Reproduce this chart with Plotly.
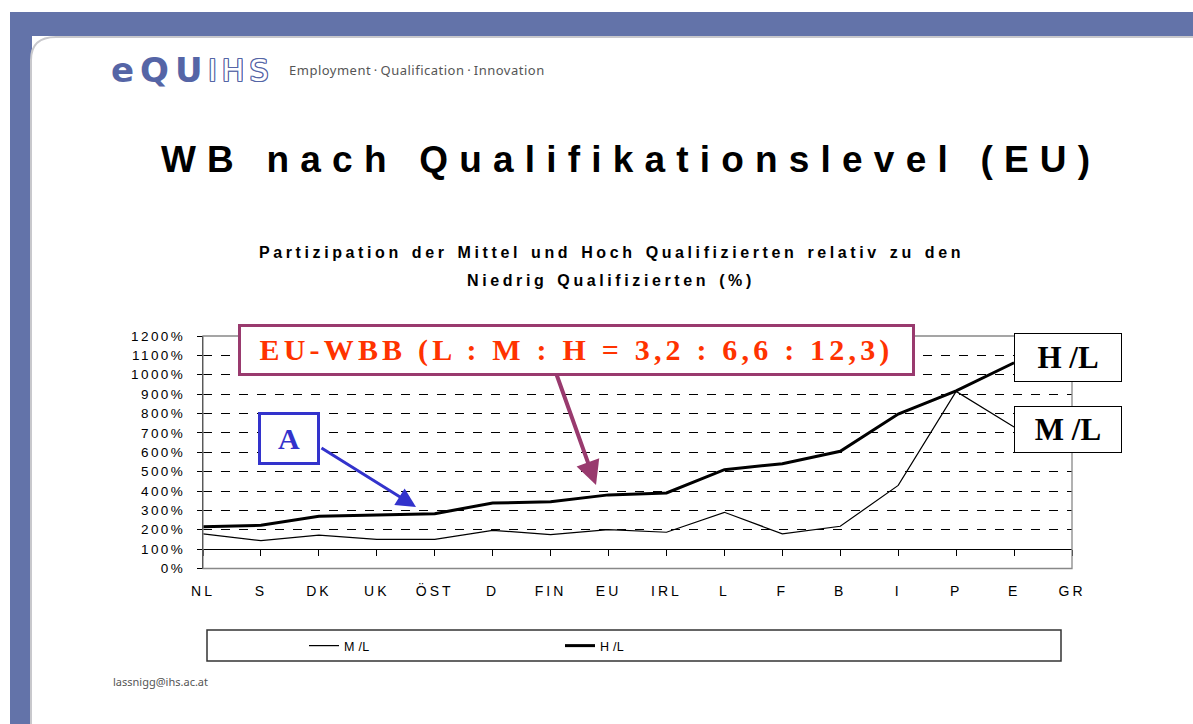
import plotly.graph_objects as go

W, H = 1193, 724

categories = ["NL", "S", "DK", "UK", "ÖST", "D", "FIN", "EU", "IRL", "L", "F", "B", "I", "P", "E", "GR"]
ml_values = [179, 144, 172, 150, 150, 197, 175, 201, 187, 290, 179, 218, 429, 914, 730, None]
hl_values = [216, 223, 270, 278, 283, 338, 344, 380, 390, 510, 541, 605, 797, 917, 1062, None]
y_tickvals = [0, 100, 200, 300, 400, 500, 600, 700, 800, 900, 1000, 1100, 1200]
y_ticktext = [f"{v}%" for v in y_tickvals]


def X(px):
    return px / W


def Y(py):
    return 1 - py / H


def ls(text, sp, ws=None):
    st = f"letter-spacing:{sp}px"
    if ws is not None:
        st += f";word-spacing:{ws}px"
    return f'<span style="{st}">{text}</span>'


x0p, x1p = 203, 1072
y0p, y1p = 568.5, 336
dom_x = [X(x0p), X(x1p)]
dom_y = [Y(y0p), Y(y1p)]
pos100 = dom_y[0] + (dom_y[1] - dom_y[0]) / 12

fig = go.Figure()
fig.add_trace(go.Scatter(x=categories, y=ml_values, mode="lines", name=ls("M /L", 0.3),
                         line=dict(color="black", width=1.2), hoverinfo="skip"))
fig.add_trace(go.Scatter(x=categories, y=hl_values, mode="lines", name=ls("H /L", 0.3),
                         line=dict(color="black", width=3), hoverinfo="skip"))
# helper trace so the category axis line at 100% is drawn
fig.add_trace(go.Scatter(x=categories, y=ml_values, xaxis="x2", mode="lines", opacity=0,
                         line=dict(width=0), showlegend=False, hoverinfo="skip"))

fig.update_layout(
    width=W, height=H,
    margin=dict(l=0, r=0, t=0, b=0, pad=0, autoexpand=False),
    paper_bgcolor="white", plot_bgcolor="white",
    font=dict(family="Liberation Sans, Arial, sans-serif", color="black"),
    xaxis=dict(domain=dom_x, anchor="y", type="category", categoryorder="array",
               categoryarray=categories, range=[0, 15], automargin=False,
               tickvals=categories, ticktext=[ls(c, 3) for c in categories],
               showgrid=False, showline=False, zeroline=False, ticks="",
               ticklabelstandoff=12, tickfont=dict(size=14)),
    xaxis2=dict(domain=dom_x, anchor="free", position=pos100, overlaying="x",
                type="category", categoryorder="array", categoryarray=categories,
                range=[0, 15], automargin=False, showgrid=False, showline=True, linecolor="black",
                linewidth=1.3, ticks="outside", ticklen=6, tickcolor="black",
                tickwidth=1.2, showticklabels=False, zeroline=False),
    yaxis=dict(domain=dom_y, anchor="x", range=[0, 1200], tickvals=y_tickvals, automargin=False,
               ticktext=[ls(t, 2.4) for t in y_ticktext],
               showgrid=True, gridcolor="black", griddash="dash", gridwidth=1,
               showline=True, linecolor="black", linewidth=1.3, ticks="outside",
               ticklen=5, tickcolor="black", zeroline=False, tickfont=dict(size=13.5),
               ticklabelstandoff=9),
    showlegend=True,
    legend=dict(orientation="h", x=X(304), y=Y(646), xanchor="left", yanchor="middle",
                bgcolor="rgba(0,0,0,0)", borderwidth=0, entrywidth=211,
                entrywidthmode="pixels",
                font=dict(size=12.5, family="Liberation Sans Narrow, Liberation Sans, Arial")),
)

shapes = []
blue = "#6373A9"
# page decorations
shapes.append(dict(type="rect", xref="paper", yref="paper", x0=X(10), x1=X(1193), y0=Y(36), y1=Y(12),
                   fillcolor=blue, line=dict(width=0), layer="below"))
shapes.append(dict(type="rect", xref="paper", yref="paper", x0=X(10), x1=X(32), y0=Y(724), y1=Y(12),
                   fillcolor=blue, line=dict(width=0), layer="below"))
shapes.append(dict(type="path", xref="paper", yref="paper",
                   path=f"M {X(31)},{Y(726)} L {X(31)},{Y(60)} Q {X(31)},{Y(37)} {X(56)},{Y(37)} L {X(1195)},{Y(37)} L {X(1195)},{Y(726)} Z",
                   fillcolor="white", line=dict(color="#c8c8cc", width=2), layer="below"))
# plot frame (gray)
shapes.append(dict(type="rect", xref="paper", yref="paper", x0=dom_x[0], x1=dom_x[1], y0=dom_y[0], y1=dom_y[1],
                   line=dict(color="#888888", width=1.3), fillcolor="rgba(0,0,0,0)", layer="above"))
# legend box
shapes.append(dict(type="rect", xref="paper", yref="paper", x0=X(207), x1=X(1061), y0=Y(661), y1=Y(630),
                   line=dict(color="#333333", width=1.5), fillcolor="rgba(0,0,0,0)"))

logo_blue = "#5565A6"
outline = ", ".join(f"{dx}px {dy}px 0 {logo_blue}" for dx, dy in [(1, 0), (-1, 0), (0, 1), (0, -1), (1, 1), (-1, -1), (1, -1), (-1, 1)])

annotations = []
# logo
annotations.append(dict(xref="paper", yref="paper", x=X(109), y=Y(70), xanchor="left", yanchor="middle",
                        text="<b>" + ls("eQU", 6) + "</b>", showarrow=False,
                        font=dict(size=34, color=logo_blue, family="DejaVu Sans, Verdana, sans-serif")))
annotations.append(dict(xref="paper", yref="paper", x=X(206), y=Y(70), xanchor="left", yanchor="middle",
                        text=ls("IHS", 5), showarrow=False,
                        font=dict(size=30, color="white", family="DejaVu Sans, Verdana, sans-serif",
                                  shadow=outline)))
annotations.append(dict(xref="paper", yref="paper", x=X(287), y=Y(70), xanchor="left", yanchor="middle",
                        text=ls("Employment\u2009·\u2009Qualification\u2009·\u2009Innovation", 0.5), showarrow=False,
                        font=dict(size=13, color="#555555", family="Noto Sans, Open Sans, sans-serif")))
# title
annotations.append(dict(xref="paper", yref="paper", x=X(631), y=Y(159), xanchor="center", yanchor="middle",
                        text="<b>" + ls("WB nach Qualifikationslevel (EU)", 11.2) + "</b>", showarrow=False,
                        font=dict(size=37, color="black", family="Liberation Sans, Arial")))
# subtitle (two lines)
annotations.append(dict(xref="paper", yref="paper", x=X(611), y=Y(252), xanchor="center", yanchor="middle",
                        text="<b>" + ls("Partizipation der Mittel und Hoch Qualifizierten relativ zu den", 3.6, 2) + "</b>",
                        showarrow=False, font=dict(size=16, color="black", family="Liberation Sans, Arial")))
annotations.append(dict(xref="paper", yref="paper", x=X(611), y=Y(280), xanchor="center", yanchor="middle",
                        text="<b>" + ls("Niedrig Qualifizierten (%)", 3.6, 2) + "</b>",
                        showarrow=False, font=dict(size=16, color="black", family="Liberation Sans, Arial")))
# EU-WBB box
annotations.append(dict(xref="paper", yref="paper", x=X(576.5), y=Y(350), xanchor="center", yanchor="middle",
                        text="<b>" + ls("EU-WBB (L : M : H = 3,2 : 6,6 : 12,3)", 4.2) + "</b>",
                        showarrow=False, width=671, height=46, bgcolor="white",
                        bordercolor="#993A6E", borderwidth=3, borderpad=0,
                        font=dict(size=30, color="#FF3300", family="Liberation Serif, Times New Roman, serif")))
# A box
annotations.append(dict(xref="paper", yref="paper", x=X(289), y=Y(438.5), xanchor="center", yanchor="middle",
                        text="<b>A</b>", showarrow=False, width=56, height=47, bgcolor="white",
                        bordercolor="#3333CC", borderwidth=3, borderpad=0,
                        font=dict(size=30, color="#3333CC", family="Liberation Serif, Times New Roman, serif")))
# arrows
annotations.append(dict(xref="paper", yref="paper", x=X(416), y=Y(507), ax=-96, ay=-60,
                        axref="pixel", ayref="pixel", text="", showarrow=True,
                        arrowhead=2, arrowsize=1.3, arrowwidth=3, arrowcolor="#3333CC"))
annotations.append(dict(xref="paper", yref="paper", x=X(596), y=Y(485), ax=-40, ay=-112,
                        axref="pixel", ayref="pixel", text="", showarrow=True,
                        arrowhead=2, arrowsize=1.2, arrowwidth=4, arrowcolor="#993A6E"))
# series label boxes
annotations.append(dict(xref="paper", yref="paper", x=X(1067.5), y=Y(357), xanchor="center", yanchor="middle",
                        text="<b>H /L</b>", showarrow=False, width=106, height=47, bgcolor="white",
                        bordercolor="black", borderwidth=1, borderpad=0,
                        font=dict(size=31, color="black", family="Liberation Serif, Times New Roman, serif")))
annotations.append(dict(xref="paper", yref="paper", x=X(1067.5), y=Y(429), xanchor="center", yanchor="middle",
                        text="<b>M /L</b>", showarrow=False, width=106, height=45, bgcolor="white",
                        bordercolor="black", borderwidth=1, borderpad=0,
                        font=dict(size=31, color="black", family="Liberation Serif, Times New Roman, serif")))
# footer
annotations.append(dict(xref="paper", yref="paper", x=X(111), y=Y(681), xanchor="left", yanchor="middle",
                        text="lassnigg@ihs.ac.at", showarrow=False,
                        font=dict(size=11, color="#555555", family="Noto Sans, Open Sans, sans-serif")))

fig.update_layout(shapes=shapes, annotations=annotations)

post = "document.documentElement.style.margin='0';document.body.style.margin='0';document.body.style.overflow='hidden';"
fig.write_html("out.html", config={"displayModeBar": False}, post_script=post)
